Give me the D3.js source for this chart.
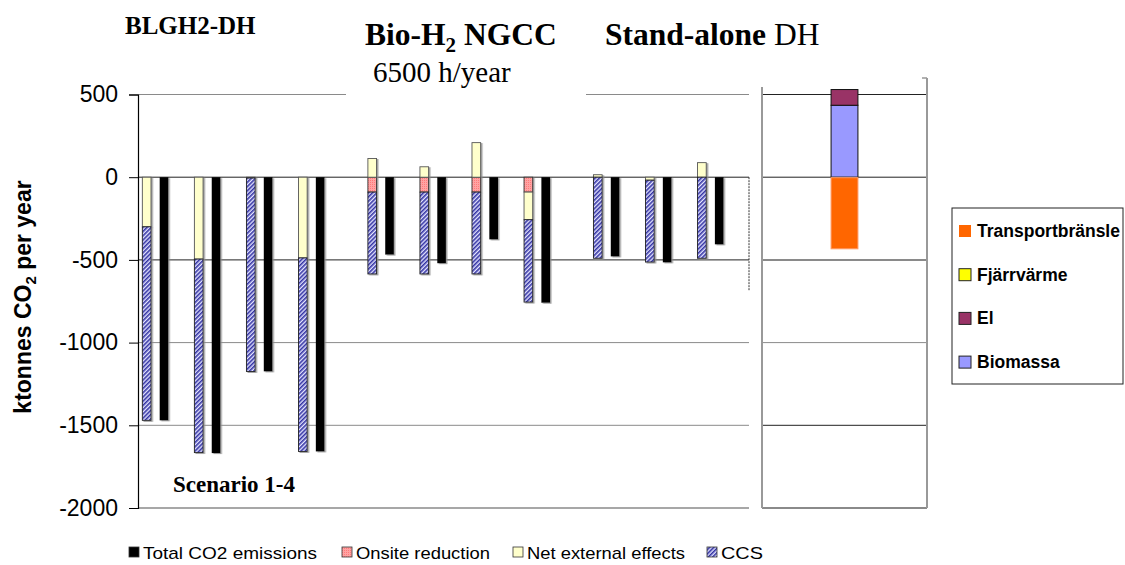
<!DOCTYPE html>
<html>
<head>
<meta charset="utf-8">
<script src="https://cdn.jsdelivr.net/npm/d3@7"></script>
<style>
  body { margin: 0; background: #fff; }
  svg { display: block; }
</style>
</head>
<body>
<svg id="chart" width="1125" height="565"></svg>
<script>
// ---- data (ktonnes CO2 per year) ----
const groups = ["BLGH2-DH", "Bio-H2 NGCC", "Stand-alone DH"];
const scenarios = [
  "BLGH2-DH 1", "BLGH2-DH 2", "BLGH2-DH 3", "BLGH2-DH 4",
  "Bio-H2 NGCC 1", "Bio-H2 NGCC 2", "Bio-H2 NGCC 3", "Bio-H2 NGCC 4",
  "Stand-alone DH 1", "Stand-alone DH 2", "Stand-alone DH 3"
];
const scenarioGroup = [0, 0, 0, 0, 1, 1, 1, 1, 2, 2, 2];
const onsiteReduction = [0, 0, 0, 0, -90, -90, -90, -90, 0, 0, 0];
const netExternal = [-300, -495, -5, -488, 113, 63, 209, -167, 15, -18, 88];
const ccs = [-1170, -1170, -1170, -1170, -495, -495, -495, -498, -490, -495, -490];
const totalCO2 = [-1470, -1668, -1174, -1658, -468, -520, -376, -759, -479, -515, -406];
const yTicks = [500, 0, -500, -1000, -1500, -2000];

// reference plant (stand-alone DH) split by energy carrier
const refCategory = ["Stand-alone DH"];
const refSeries = ["Biomassa", "El", "Fjärrvärme", "Transportbränsle"];
const refValues = { "Biomassa": 435, "El": 95, "Fjärrvärme": -3, "Transportbränsle": -430 };
const refLegend = ["Transportbränsle", "Fjärrvärme", "El", "Biomassa"];

const mainLegend = ["Total CO2 emissions", "Onsite reduction", "Net external effects", "CCS"];

// ---- setup ----
const svg = d3.select("#chart");
const defs = svg.append("defs");

const hatch = defs.append("pattern").attr("id", "ccsHatch")
  .attr("patternUnits", "userSpaceOnUse").attr("width", 3).attr("height", 3)
  .attr("patternTransform", "rotate(45)");
hatch.append("rect").attr("width", 3).attr("height", 3).attr("fill", "#e4e4ff");
hatch.append("rect").attr("width", 1.6).attr("height", 3).attr("fill", "#3434a4");

const dots = defs.append("pattern").attr("id", "onsiteDots")
  .attr("patternUnits", "userSpaceOnUse").attr("width", 2).attr("height", 2);
dots.append("rect").attr("width", 2).attr("height", 2).attr("fill", "#ffa3a3");
dots.append("rect").attr("width", 1).attr("height", 1).attr("fill", "#ff7a7a");

const shadow = defs.append("filter").attr("id", "barShadow")
  .attr("x", "-50%").attr("y", "-5%").attr("width", "200%").attr("height", "110%");
shadow.append("feDropShadow").attr("dx", 1.5).attr("dy", 1).attr("stdDeviation", 0.4)
  .attr("flood-color", "#8a8a8a").attr("flood-opacity", 0.8);

const y = d3.scaleLinear().domain([-2000, 500]).range([508, 94.5]);

// slot layout: each scenario = stacked bar, total bar, gap; an extra slot between groups
const slots = [];
groups.forEach((g, gi) => {
  scenarios.forEach((s, i) => {
    if (scenarioGroup[i] === gi) slots.push(s + "|stack", s + "|total", s + "|gap");
  });
  if (gi < groups.length - 1) slots.push(g + "|spacer");
});
const x = d3.scaleBand().domain(slots).range([138, 745.25]).padding(0);
const barW = x.bandwidth() * 0.5;
const barX = key => x(key) + (x.bandwidth() - barW) / 2;

const plotLeft = 138, plotRight = 749;

// ---- gridlines ----
const gridColor = v => (v === 0 || v === -500) ? "#222" : "#8a8a8a";
svg.append("g").selectAll("line")
  .data(yTicks.filter(v => v !== -2000)).join("line")
  .attr("x1", plotLeft).attr("x2", plotRight)
  .attr("y1", d => y(d)).attr("y2", d => y(d))
  .attr("stroke", d => gridColor(d)).attr("stroke-width", 1);
svg.append("line").attr("x1", plotLeft).attr("x2", plotRight)
  .attr("y1", y(-2000)).attr("y2", y(-2000))
  .attr("stroke", "#8a8a8a").attr("stroke-width", 1.5);
svg.append("line").attr("x1", plotRight).attr("x2", plotRight)
  .attr("y1", y(0)).attr("y2", 291)
  .attr("stroke", "#333").attr("stroke-width", 1).attr("stroke-dasharray", "2,1");

// ---- stacked bars ----
const rows = scenarios.map((s, i) => ({
  scenario: s, onsite: onsiteReduction[i], netExternal: netExternal[i], ccs: ccs[i]
}));
const stacked = d3.stack().keys(["onsite", "netExternal", "ccs"])
  .offset(d3.stackOffsetDiverging)(rows);
const fills = { onsite: "url(#onsiteDots)", netExternal: "#ffffcc", ccs: "url(#ccsHatch)" };
const strokes = { onsite: "#333", netExternal: "#555", ccs: "#222" };

const barsG = svg.append("g").attr("filter", "url(#barShadow)");
stacked.forEach(layer => {
  barsG.append("g").selectAll("rect")
    .data(layer.filter(d => d[1] !== d[0])).join("rect")
    .attr("x", d => barX(d.data.scenario + "|stack"))
    .attr("width", barW)
    .attr("y", d => y(Math.max(d[0], d[1])))
    .attr("height", d => Math.abs(y(d[0]) - y(d[1])))
    .attr("fill", fills[layer.key])
    .attr("stroke", strokes[layer.key]).attr("stroke-width", 0.9);
});

// total emission bars
barsG.append("g").selectAll("rect")
  .data(scenarios.map((s, i) => ({ scenario: s, value: totalCO2[i] }))).join("rect")
  .attr("x", d => barX(d.scenario + "|total"))
  .attr("width", barW)
  .attr("y", d => y(Math.max(0, d.value)))
  .attr("height", d => Math.abs(y(d.value) - y(0)))
  .attr("fill", "#000");

// ---- y axis ----
const yAxis = svg.append("g").attr("transform", `translate(${plotLeft},0)`)
  .call(d3.axisLeft(y).tickValues(yTicks).tickSize(9).tickPadding(11).tickFormat(d3.format("d")));
yAxis.select(".domain").attr("stroke", "#000").attr("stroke-width", 1.2);
yAxis.selectAll(".tick line").attr("stroke", "#000");
yAxis.selectAll(".tick text")
  .attr("font-family", "Liberation Sans, Arial, sans-serif").attr("font-size", 23)
  .attr("fill", "#000").text(d => d < 0 ? "-" + Math.abs(d) : d);

const yTitle = svg.append("text")
  .attr("transform", "translate(31,297) rotate(-90)")
  .attr("text-anchor", "middle")
  .attr("font-family", "Liberation Sans, Arial, sans-serif")
  .attr("font-weight", "bold").attr("font-size", 23);
yTitle.append("tspan").text("ktonnes CO");
yTitle.append("tspan").attr("font-size", 15).attr("dy", 5).text("2");
yTitle.append("tspan").attr("dy", -5).text(" per year");

// ---- group titles ----
const serif = "Liberation Serif, 'Times New Roman', serif";
svg.append("rect").attr("x", 346).attr("y", 55).attr("width", 240).attr("height", 45).attr("fill", "#fff");
svg.append("text").attr("x", 125).attr("y", 34)
  .attr("font-family", serif).attr("font-weight", "bold").attr("font-size", 25)
  .text(groups[0]);
const t2 = svg.append("text").attr("x", 365).attr("y", 45)
  .attr("font-family", serif).attr("font-weight", "bold").attr("font-size", 31.5);
t2.append("tspan").text("Bio-H");
t2.append("tspan").attr("font-size", 21).attr("dy", 7).text("2");
t2.append("tspan").attr("dy", -7).text(" NGCC");
svg.append("text").attr("x", 373).attr("y", 82)
  .attr("font-family", serif).attr("font-size", 29).text("6500 h/year");
const t3 = svg.append("text").attr("x", 605).attr("y", 45)
  .attr("font-family", serif).attr("font-size", 31.5);
t3.append("tspan").attr("font-weight", "bold").text("Stand-alone");
t3.append("tspan").text(" DH");
svg.append("text").attr("x", 173).attr("y", 492)
  .attr("font-family", serif).attr("font-weight", "bold").attr("font-size", 23)
  .text("Scenario 1-4");

// ---- bottom legend ----
const legendItems = [
  { label: mainLegend[0], fill: "#000", x: 129, w: 174 },
  { label: mainLegend[1], fill: "url(#onsiteDots)", x: 342, w: 134 },
  { label: mainLegend[2], fill: "#ffffcc", x: 513, w: 158 },
  { label: mainLegend[3], fill: "url(#ccsHatch)", x: 707, w: 42 }
];
const lg = svg.append("g");
legendItems.forEach(it => {
  lg.append("rect").attr("x", it.x).attr("y", 547).attr("width", 10).attr("height", 10)
    .attr("fill", it.fill).attr("stroke", "#333").attr("stroke-width", 0.8);
  lg.append("text").attr("x", it.x + 14).attr("y", 559)
    .attr("font-family", "Liberation Sans, Arial, sans-serif").attr("font-size", 17)
    .attr("textLength", it.w).attr("lengthAdjust", "spacingAndGlyphs")
    .attr("fill", "#000").text(it.label);
});

// ---- reference plant panel ----
const xr = d3.scaleBand().domain(refCategory).range([762, 927]).padding(0.72);
const panelGrid = [
  { v: 500, c: "#222", w: 1 }, { v: 0, c: "#222", w: 1 }, { v: -500, c: "#8a8a8a", w: 2 },
  { v: -1000, c: "#8a8a8a", w: 1 }, { v: -1500, c: "#222", w: 1 }, { v: -2000, c: "#8a8a8a", w: 2 }
];
const rp = svg.append("g");
rp.selectAll("line.g").data(panelGrid).join("line").attr("class", "g")
  .attr("x1", 762).attr("x2", 927).attr("y1", d => y(d.v)).attr("y2", d => y(d.v))
  .attr("stroke", d => d.c).attr("stroke-width", d => d.w);
rp.append("line").attr("x1", 762).attr("x2", 762).attr("y1", 87).attr("y2", y(-2000))
  .attr("stroke", "#999").attr("stroke-width", 2);
rp.append("line").attr("x1", 927).attr("x2", 927).attr("y1", 78).attr("y2", y(-2000))
  .attr("stroke", "#999").attr("stroke-width", 2);
rp.append("line").attr("x1", 922).attr("x2", 927).attr("y1", 78).attr("y2", 78)
  .attr("stroke", "#999").attr("stroke-width", 1.5);

const refRow = Object.assign({ cat: refCategory[0] }, refValues);
const refStack = d3.stack().keys(refSeries).offset(d3.stackOffsetDiverging)([refRow]);
const refColors = { "Biomassa": "#9999ff", "El": "#993366", "Fjärrvärme": "#ffff00", "Transportbränsle": "#ff6600" };
const refStroke = { "Biomassa": "#111", "El": "#111", "Fjärrvärme": "#555", "Transportbränsle": "#ff9a66" };
refStack.forEach(layer => {
  rp.append("g").selectAll("rect").data(layer).join("rect")
    .attr("x", d => xr(d.data.cat))
    .attr("width", xr.bandwidth())
    .attr("y", d => y(Math.max(d[0], d[1])))
    .attr("height", d => Math.abs(y(d[0]) - y(d[1])))
    .attr("fill", refColors[layer.key])
    .attr("stroke", refStroke[layer.key]).attr("stroke-width", 1);
});

// legend box
const rl = svg.append("g");
rl.append("rect").attr("x", 952).attr("y", 208).attr("width", 171).attr("height", 176)
  .attr("fill", "#fff").attr("stroke", "#222").attr("stroke-width", 1);
refLegend.forEach((name, i) => {
  const cy = 231 + i * 43.7;
  rl.append("rect").attr("x", 959).attr("y", cy - 6).attr("width", 12).attr("height", 12)
    .attr("fill", refColors[name])
    .attr("stroke", name === "Transportbränsle" ? "none" : "#222").attr("stroke-width", 1);
  rl.append("text").attr("x", 977).attr("y", cy + 6)
    .attr("font-family", "Liberation Sans, Arial, sans-serif").attr("font-weight", "bold")
    .attr("font-size", 17.5).attr("fill", "#000").text(name);
});
</script>
</body>
</html>
